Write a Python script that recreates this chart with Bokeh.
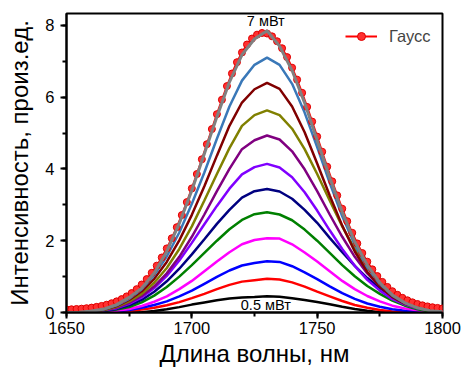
from bokeh.plotting import figure
from bokeh.models import Range1d, SingleIntervalTicker, Label, Legend, LegendItem
from bokeh.embed import file_html
from bokeh.resources import INLINE

# ---- data ----
wavelength = [1650, 1655, 1660, 1665, 1670, 1675, 1680, 1685, 1690, 1695, 1700,
              1705, 1710, 1715, 1720, 1725, 1730, 1735, 1740, 1745, 1750,
              1755, 1760, 1765, 1770, 1775, 1780, 1785, 1790, 1795, 1800]

p_05mW = [0, 0, 0, 0, 0, 0, 0.01, 0.04, 0.09, 0.15, 0.22, 0.28, 0.34, 0.39, 0.42, 0.43,
          0.45, 0.44, 0.40, 0.35, 0.29, 0.23, 0.16, 0.10, 0.05, 0.01, 0, 0, 0, 0, 0]
p_red = [0, 0, 0, 0.01, 0.02, 0.04, 0.08, 0.13, 0.20, 0.29, 0.40, 0.52, 0.65, 0.77, 0.86, 0.90,
         0.94, 0.92, 0.84, 0.72, 0.58, 0.45, 0.32, 0.21, 0.13, 0.07, 0.03, 0.01, 0, 0, 0]
p_blue = [0, 0, 0, 0.01, 0.03, 0.07, 0.13, 0.21, 0.31, 0.45, 0.61, 0.80, 0.99, 1.17, 1.31, 1.38,
          1.43, 1.41, 1.29, 1.12, 0.93, 0.73, 0.54, 0.38, 0.25, 0.16, 0.09, 0.05, 0.02, 0, 0]
p_magenta = [0, 0, 0, 0.02, 0.05, 0.10, 0.18, 0.30, 0.45, 0.65, 0.88, 1.15, 1.42, 1.68, 1.90, 2.02,
             2.07, 2.06, 1.90, 1.67, 1.42, 1.15, 0.88, 0.65, 0.46, 0.31, 0.19, 0.11, 0.06, 0.02, 0]
p_green = [0, 0, 0.02, 0.04, 0.08, 0.15, 0.28, 0.47, 0.71, 1.00, 1.32, 1.66, 2.00, 2.32, 2.58, 2.74,
           2.79, 2.73, 2.57, 2.31, 2.00, 1.66, 1.32, 1.01, 0.74, 0.52, 0.33, 0.19, 0.09, 0.03, 0.01]
p_navy = [0, 0.01, 0.02, 0.05, 0.10, 0.20, 0.35, 0.58, 0.87, 1.22, 1.62, 2.04, 2.47, 2.86, 3.20, 3.38,
          3.44, 3.37, 3.17, 2.86, 2.50, 2.08, 1.68, 1.30, 0.96, 0.68, 0.45, 0.28, 0.16, 0.08, 0.03]
p_violet = [0, 0.01, 0.02, 0.06, 0.12, 0.24, 0.42, 0.68, 1.02, 1.45, 1.94, 2.46, 2.97, 3.45, 3.85, 4.05,
            4.14, 4.04, 3.77, 3.35, 2.84, 2.29, 1.77, 1.30, 0.91, 0.61, 0.37, 0.22, 0.12, 0.06, 0.03]
p_purple = [0, 0.01, 0.03, 0.07, 0.14, 0.27, 0.46, 0.73, 1.09, 1.55, 2.11, 2.73, 3.38, 4.00, 4.55, 4.80,
            4.93, 4.82, 4.49, 3.99, 3.38, 2.73, 2.11, 1.55, 1.09, 0.73, 0.44, 0.26, 0.14, 0.07, 0.03]
p_olive = [0, 0.01, 0.03, 0.07, 0.16, 0.31, 0.52, 0.83, 1.24, 1.77, 2.40, 3.12, 3.86, 4.58, 5.20, 5.50,
           5.63, 5.50, 5.12, 4.55, 3.86, 3.12, 2.40, 1.77, 1.24, 0.80, 0.47, 0.27, 0.14, 0.07, 0.03]
p_wine = [0, 0.01, 0.03, 0.08, 0.18, 0.35, 0.59, 0.94, 1.41, 2.01, 2.72, 3.52, 4.37, 5.20, 5.85, 6.22,
          6.40, 6.23, 5.74, 5.02, 4.15, 3.26, 2.42, 1.70, 1.13, 0.72, 0.43, 0.24, 0.13, 0.06, 0.02]
p_steel = [0, 0.01, 0.03, 0.09, 0.20, 0.38, 0.65, 1.04, 1.56, 2.23, 3.03, 3.90, 4.84, 5.74, 6.46, 6.90,
           7.10, 6.90, 6.37, 5.57, 4.61, 3.61, 2.68, 1.89, 1.26, 0.79, 0.47, 0.26, 0.13, 0.06, 0.02]
p_7mW = [0, 0.01, 0.04, 0.10, 0.22, 0.42, 0.68, 1.10, 1.70, 2.48, 3.40, 4.42, 5.45, 6.42, 7.18, 7.62,
         7.85, 7.42, 6.74, 5.84, 4.80, 3.76, 2.80, 1.97, 1.32, 0.83, 0.49, 0.27, 0.13, 0.05, 0.02]

gauss_wl = [1650, 1652, 1654, 1656, 1658, 1660, 1662, 1664, 1666, 1668, 1670, 1672, 1674, 1676,
            1678, 1680, 1682, 1684, 1686, 1688, 1690, 1692, 1694, 1696, 1698, 1700, 1702, 1704,
            1706, 1708, 1710, 1712, 1714, 1716, 1718, 1720, 1722, 1724, 1726, 1728, 1730, 1732,
            1734, 1736, 1738, 1740, 1742, 1744, 1746, 1748, 1750, 1752, 1754, 1756, 1758, 1760,
            1762, 1764, 1766, 1768, 1770, 1772, 1774, 1776, 1778, 1780, 1782, 1784, 1786, 1788,
            1790, 1792, 1794, 1796, 1798, 1800]
gauss_val = [0.085, 0.090, 0.098, 0.107, 0.120, 0.136, 0.157, 0.183, 0.217, 0.258, 0.310, 0.373,
             0.449, 0.541, 0.651, 0.780, 0.931, 1.105, 1.305, 1.532, 1.786, 2.068, 2.377, 2.713,
             3.075, 3.457, 3.857, 4.269, 4.689, 5.110, 5.526, 5.927, 6.307, 6.658, 6.973, 7.244,
             7.466, 7.633, 7.741, 7.788, 7.772, 7.694, 7.557, 7.362, 7.115, 6.820, 6.487, 6.120,
             5.728, 5.319, 4.900, 4.479, 4.061, 3.654, 3.263, 2.892, 2.543, 2.220, 1.924, 1.656,
             1.416, 1.202, 1.015, 0.853, 0.713, 0.593, 0.493, 0.409, 0.340, 0.283, 0.237, 0.199,
             0.170, 0.146, 0.128, 0.113]

x_ticks_interval = 50
y_ticks_interval = 2

FONT = "Liberation Sans"

p = figure(width=461, height=373, output_backend="svg", toolbar_location=None,
           x_range=Range1d(1650, 1800), y_range=Range1d(0, 8.33),
           min_border_left=66, min_border_right=19, min_border_top=13, min_border_bottom=61)
p.grid.visible = False
p.outline_line_color = "black"
p.outline_line_width = 2
p.background_fill_color = "white"
p.border_fill_color = "white"

p.xaxis.ticker = SingleIntervalTicker(interval=x_ticks_interval, num_minor_ticks=2)
p.yaxis.ticker = SingleIntervalTicker(interval=y_ticks_interval, num_minor_ticks=2)
for ax in (p.xaxis[0], p.yaxis[0]):
    ax.axis_line_width = 2
    ax.axis_line_color = "black"
    ax.major_tick_line_width = 2
    ax.minor_tick_line_width = 2
    ax.major_tick_line_color = "black"
    ax.minor_tick_line_color = "black"
    ax.major_tick_in = 0
    ax.minor_tick_in = 0
    ax.major_tick_out = 6
    ax.minor_tick_out = 4
    ax.major_label_text_font = FONT
    ax.major_label_text_font_size = "16.5px"
    ax.major_label_text_color = "black"
    ax.axis_label_text_font = FONT
    ax.axis_label_text_font_style = "normal"
    ax.axis_label_text_color = "black"
p.xaxis.major_label_standoff = 3
p.yaxis.major_label_standoff = 6
p.xaxis.axis_label = "Длина волны, нм"
p.xaxis.axis_label_text_font_size = "24px"
p.xaxis.axis_label_standoff = 3
p.yaxis.axis_label = "Интенсивность, произ.ед."
p.yaxis.axis_label_text_font_size = "24px"
p.yaxis.axis_label_standoff = 9

series = [
    (p_05mW, "#000000"),
    (p_red, "#ff0000"),
    (p_blue, "#0000ff"),
    (p_magenta, "#ff00ff"),
    (p_green, "#008000"),
    (p_navy, "#000080"),
    (p_violet, "#8000ff"),
    (p_purple, "#800080"),
    (p_olive, "#808000"),
    (p_wine, "#800000"),
    (p_steel, "#3a78b8"),
]
for vals, col in series:
    p.line(wavelength, vals, line_color=col, line_width=2.5)

gline = p.line(gauss_wl, gauss_val, line_color="#ff0000", line_width=2)
gdots = p.scatter(gauss_wl, gauss_val, marker="circle", size=7,
                  fill_color="#ff3030", line_color="#e00000", line_width=1)
p.line(wavelength, p_7mW, line_color="#808080", line_width=3)

legend = Legend(items=[LegendItem(label="Гаусс", renderers=[gline, gdots])],
                location=(279, 266), padding=0, margin=0, spacing=0,
                glyph_width=32, glyph_height=20, label_standoff=12,
                label_text_font=FONT, label_text_font_size="16.5px",
                border_line_alpha=0, background_fill_alpha=0)
p.add_layout(legend)

p.add_layout(Label(x=1729.5, y=8.13, text="7 мВт", text_align="center", text_baseline="middle",
                   text_font=FONT, text_font_size="14.5px", text_color="black"))
p.add_layout(Label(x=1729.5, y=0.21, text="0.5 мВт", text_align="center", text_baseline="middle",
                   text_font=FONT, text_font_size="14.5px", text_color="black"))

open("out.html", "w").write(file_html(p, INLINE))
